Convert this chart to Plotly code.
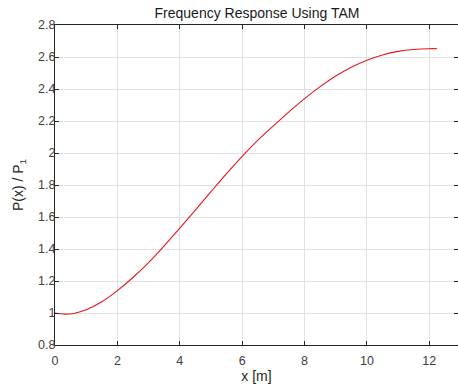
import plotly.graph_objects as go

x_vals = [0, 0.3, 0.6, 1.0, 1.5, 2.0, 2.5, 3.0, 3.5, 4.0, 4.5, 5.0, 5.5, 6.0,
          6.5, 7.0, 7.5, 8.0, 8.5, 9.0, 9.5, 10.0, 10.5, 11.0, 11.5, 12.0, 12.25]
p_ratio = [1.0, 0.993, 0.997, 1.02, 1.07, 1.14, 1.222, 1.315, 1.42, 1.53, 1.643,
           1.758, 1.871, 1.979, 2.079, 2.169, 2.257, 2.34, 2.415, 2.481, 2.536,
           2.58, 2.613, 2.635, 2.647, 2.652, 2.652]

x_ticks = [0, 2, 4, 6, 8, 10, 12]
y_ticks = [0.8, 1, 1.2, 1.4, 1.6, 1.8, 2, 2.2, 2.4, 2.6, 2.8]
y_tick_text = ["0.8", "1", "1.2", "1.4", "1.6", "1.8", "2", "2.2", "2.4", "2.6", "2.8"]

font_family = "Liberation Sans, Arial, sans-serif"
axis_col = "#262626"
grid_col = "#e1e1e1"

fig = go.Figure()
fig.add_trace(go.Scatter(x=x_vals, y=p_ratio, mode="lines",
                         line=dict(color="#e8161c", width=1.1, shape="spline", smoothing=0.8),
                         hoverinfo="skip", showlegend=False))

common = dict(showline=True, linecolor=axis_col, linewidth=1, mirror="allticks",
              ticks="inside", ticklen=4, tickcolor=axis_col, tickwidth=1,
              showgrid=True, gridcolor=grid_col, gridwidth=1, zeroline=False,
              automargin=False,
              tickfont=dict(family=font_family, size=12.5, color="#404040"))

fig.update_xaxes(range=[0, 12.92], tickvals=x_ticks, ticklabelstandoff=4, **common,
                 title=dict(text="x [m]", font=dict(family=font_family, size=14, color="#262626"),
                            standoff=4))
fig.update_yaxes(range=[0.8, 2.8], tickvals=y_ticks, ticktext=y_tick_text,
                 ticklabelstandoff=-4, **common,
                 title=dict(text="P(x) / P<sub>1</sub>",
                            font=dict(family=font_family, size=14, color="#262626"),
                            standoff=11))

fig.update_layout(
    width=458, height=388,
    margin=dict(l=55, r=0, t=25, b=43),
    paper_bgcolor="white", plot_bgcolor="white",
    title=dict(text="Frequency Response Using TAM", x=257 / 458, xanchor="center",
               y=1 - 13 / 388, yanchor="middle", xref="container", yref="container",
               font=dict(family=font_family, size=14, color="#1a1a1a")),
)

fig.write_html("out.html", config={"displayModeBar": False},
               post_script="document.body.style.margin='0';")
